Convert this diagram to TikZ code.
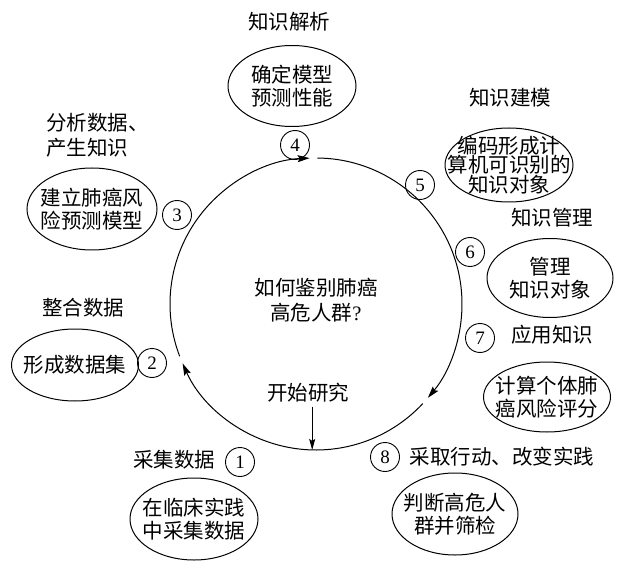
\documentclass[tikz,border=0pt]{standalone}
\usepackage{fontspec}
\setmainfont{Liberation Serif}
\newfontfamily\cjk{Noto Sans CJK SC}
\usetikzlibrary{shapes.geometric,arrows.meta}
\begin{document}
\begin{tikzpicture}[x=1pt,y=1pt,
  bub/.style={inner sep=0pt,align=center,
    font=\cjk\fontsize{20.5}{23}\selectfont},
  ell/.style={line width=1pt},
  num/.style={circle,draw,line width=0.9pt,inner sep=0pt,minimum size=29pt,
    font=\fontsize{19}{19}\selectfont},
  lbl/.style={font=\cjk\fontsize{20.5}{25}\selectfont,inner sep=0pt},
  cyc/.style={line width=1pt,-{Stealth[length=12pt,width=7pt,inset=2pt]}}]
\useasboundingbox (0,0) rectangle (626,571);
\coordinate (c) at (316,267);
% cycle
\draw[cyc] ([shift={(201:146)}]c) arc[start angle=201,end angle=92.5,radius=146];
\draw[cyc] ([shift={(89.5:146)}]c) arc[start angle=89.5,end angle=-40,radius=146];
\draw[cyc] ([shift={(-43:146)}]c) arc[start angle=-43,end angle=-156,radius=146];
\coordinate (cbot) at ([shift={(-91.5:146)}]c);
% centre
\node[lbl,align=center] (q) at (316,271) {如何鉴别肺癌\\高危人群{\rmfamily ?}};
\node[lbl] (start) at (308,178) {开始研究};
\draw[line width=1pt,-{Stealth[length=11pt,width=6pt,inset=2pt]}] (start.south -| cbot) ++(0,-4) -- (cbot);
% step 4
\node[lbl] (l4) at (289,549) {知识解析};
\node[bub] (e4) at (292,485) {确定模型\\预测性能};
\draw[ell] (e4.center) ellipse[x radius=64,y radius=40.5];
\node[num] (n4) at (295,426) {4};
% step 3
\node[lbl,anchor=west,align=left] (l3) at (46,436) {分析数据、\\产生知识};
\node[bub] (e3) at (92,362) {建立肺癌风\\险预测模型};
\draw[ell] (e3.center) ellipse[x radius=65,y radius=41];
\node[num] (n3) at (177,356) {3};
% step 2
\node[lbl] (l2) at (83,263) {整合数据};
\node[bub] (e2) at (75,206) {形成数据集};
\draw[ell] (e2.center) ellipse[x radius=63.5,y radius=36];
\node[num] (n2) at (152,208) {2};
% step 5
\node[lbl] (l5) at (510,473) {知识建模};
\node[bub,font=\cjk\fontsize{20.5}{19.5}\selectfont] (e5) at (509,406) {编码形成计\\算机可识别的\\知识对象};
\draw[ell] (e5.center) ellipse[x radius=64,y radius=37];
\node[num] (n5) at (420,386) {5};
% step 6
\node[lbl] (l6) at (552,353) {知识管理};
\node[bub] (e6) at (550,293) {管理\\知识对象};
\draw[ell] (e6.center) ellipse[x radius=63,y radius=39.5];
\node[num] (n6) at (470,319) {6};
% step 7
\node[lbl] (l7) at (552,236) {应用知识};
\node[num] (n7) at (480,233) {7};
\node[bub] (e7) at (547,174) {计算个体肺\\癌风险评分};
\draw[ell] (e7.center) ellipse[x radius=63.5,y radius=35];
% step 8
\node[num] (n8) at (385,114) {8};
\node[lbl] (l8) at (502,114) {采取行动、改变实践};
\node[bub] (e8) at (455,57) {判断高危人\\群并筛检};
\draw[ell] (e8.center) ellipse[x radius=63,y radius=41];
% step 1
\node[lbl] (l1) at (174,111) {采集数据};
\node[num] (n1) at (240,109) {1};
\node[bub] (e1) at (194,52) {在临床实践\\中采集数据};
\draw[ell] (e1.center) ellipse[x radius=64,y radius=41];
\end{tikzpicture}
\end{document}
